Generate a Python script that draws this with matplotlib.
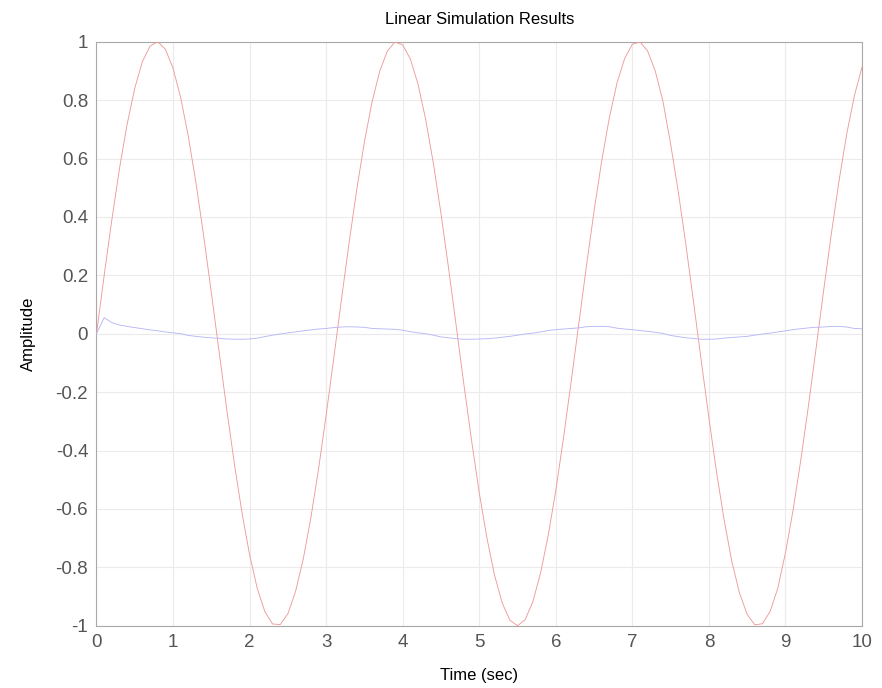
import matplotlib
matplotlib.use("Agg")
import matplotlib.pyplot as plt
import numpy as np

plt.rcParams['font.family'] = ['Liberation Sans', 'DejaVu Sans']
plt.rcParams['axes.unicode_minus'] = False

time = [round(0.1 * i, 1) for i in range(101)]

red_output = [
    0.000, 0.199, 0.389, 0.565, 0.717, 0.841, 0.932, 0.985, 1.000, 0.974,
    0.909, 0.808, 0.675, 0.516, 0.335, 0.141, -0.058, -0.256, -0.443, -0.612,
    -0.757, -0.872, -0.952, -0.994, -0.996, -0.959, -0.883, -0.773, -0.631, -0.465,
    -0.279, -0.083, 0.117, 0.312, 0.494, 0.657, 0.794, 0.899, 0.968, 0.999,
    0.989, 0.941, 0.855, 0.734, 0.585, 0.412, 0.223, 0.025, -0.175, -0.366,
    -0.544, -0.699, -0.827, -0.922, -0.981, -1.000, -0.979, -0.918, -0.821, -0.692,
    -0.537, -0.358, -0.166, 0.033, 0.231, 0.420, 0.592, 0.740, 0.859, 0.943,
    0.991, 0.999, 0.968, 0.899, 0.796, 0.650, 0.487, 0.304, 0.108, -0.092,
    -0.288, -0.474, -0.639, -0.780, -0.888, -0.961, -0.997, -0.993, -0.951, -0.872,
    -0.751, -0.604, -0.434, -0.248, -0.051, 0.150, 0.343, 0.523, 0.683, 0.814,
    0.913,
]

blue_output = [
    0.000, 0.055, 0.038, 0.030, 0.025, 0.021, 0.017, 0.013, 0.010, 0.006,
    0.003, 0.000, -0.006, -0.009, -0.012, -0.014, -0.016, -0.018, -0.019, -0.019,
    -0.018, -0.015, -0.010, -0.005, -0.001, 0.003, 0.006, 0.010, 0.013, 0.016,
    0.018, 0.021, 0.023, 0.024, 0.023, 0.022, 0.018, 0.017, 0.016, 0.015,
    0.012, 0.007, 0.003, 0.000, -0.005, -0.011, -0.014, -0.017, -0.019, -0.019,
    -0.018, -0.017, -0.015, -0.012, -0.009, -0.005, -0.001, 0.002, 0.006, 0.011,
    0.014, 0.016, 0.018, 0.020, 0.024, 0.025, 0.025, 0.024, 0.019, 0.016,
    0.014, 0.011, 0.008, 0.005, 0.001, -0.006, -0.010, -0.014, -0.016, -0.019,
    -0.019, -0.018, -0.015, -0.013, -0.011, -0.009, -0.005, -0.001, 0.002, 0.006,
    0.010, 0.014, 0.017, 0.020, 0.022, 0.023, 0.025, 0.025, 0.023, 0.018,
    0.017,
]

x_ticks = [0, 1, 2, 3, 4, 5, 6, 7, 8, 9, 10]
y_ticks = [-1, -0.8, -0.6, -0.4, -0.2, 0, 0.2, 0.4, 0.6, 0.8, 1]
y_tick_labels = ["-1", "-0.8", "-0.6", "-0.4", "-0.2", "0", "0.2", "0.4", "0.6", "0.8", "1"]

fig = plt.figure(figsize=(8.82, 6.88), dpi=100)
ax = fig.add_axes([0.1094, 0.0905, 0.8679, 0.8489])

ax.plot(time, red_output, color='#f09a9a', lw=0.65, zorder=3)
ax.plot(time, blue_output, color='#b8b8f8', lw=0.65, zorder=3)

ax.set_xlim(0, 10)
ax.set_ylim(-1, 1)
ax.set_xticks(x_ticks)
ax.set_xticklabels([str(v) for v in x_ticks])
ax.set_yticks(y_ticks)
ax.set_yticklabels(y_tick_labels)
ax.grid(True, color='#ebebeb', lw=0.8)
ax.set_axisbelow(True)
for s in ax.spines.values():
    s.set_color('#a8a8a8')
    s.set_linewidth(0.8)
ax.tick_params(axis='both', which='both', length=0, labelsize=13.5, labelcolor='#555555', pad=6)

ax.set_title("Linear Simulation Results", fontsize=12, color='black', pad=13)
ax.set_xlabel("Time (sec)", fontsize=12, color='black', labelpad=12)
ax.set_ylabel("Amplitude", fontsize=12, color='black', labelpad=14)

fig.savefig("out.png", dpi=100)
